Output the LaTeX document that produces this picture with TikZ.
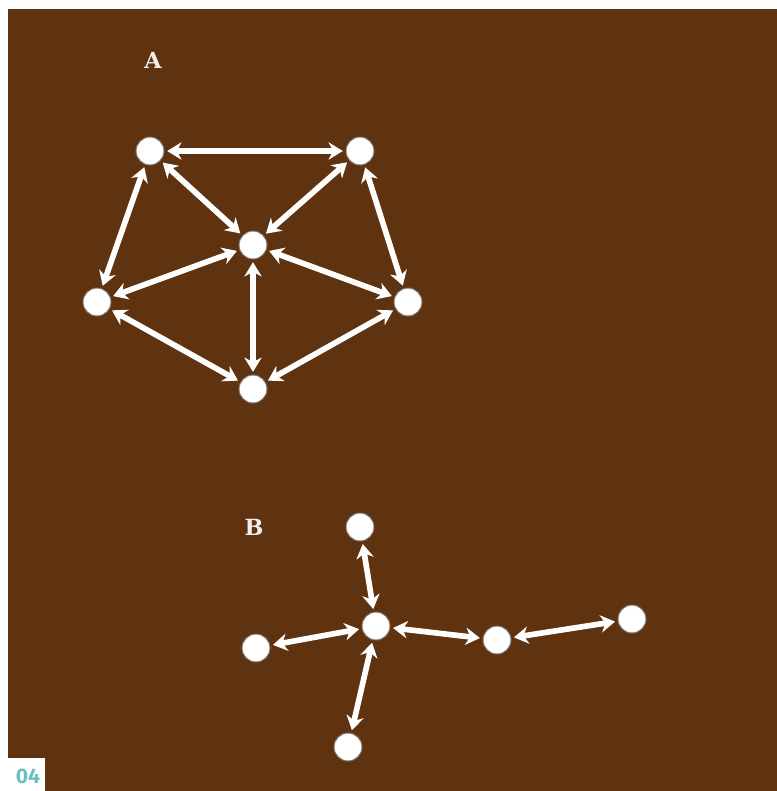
\documentclass[tikz,border=0pt]{standalone}
\usepackage{fontspec}
\newfontfamily\slabfont{DejaVu Serif}
\newfontfamily\numfont{Fira Sans}
\usepackage{tikz}
\usetikzlibrary{arrows.meta}
\definecolor{netBrown}{HTML}{5F3210}
\definecolor{netTeal}{HTML}{6DBFC3}
\definecolor{netShade}{HTML}{2A1406}
\tikzset{
  netNode/.style={
    circle,
    fill=white,
    draw=netShade!60,
    line width=0.3mm,
    minimum size=8.4mm,
    inner sep=0pt
  },
  netLink/.style={
    {Stealth[length=4.3mm, width=5.2mm]}-{Stealth[length=4.3mm, width=5.2mm]},
    line width=1.7mm,
    white,
    shorten <=0.8mm,
    shorten >=0.8mm
  },
  netLabel/.style={
    font=\fontsize{19}{23}\selectfont\slabfont\bfseries,
    text=white!92!netBrown,
    inner sep=0pt
  },
  figNumber/.style={
    font=\fontsize{18}{22}\selectfont\numfont\bfseries,
    text=netTeal,
    inner sep=0pt
  }
}
\begin{document}
\begin{tikzpicture}[x=0.3mm,y=-0.3mm]
  \useasboundingbox (0,0) rectangle (777,791);
  \fill[white] (0,0) rectangle (777,791);
  \fill[netBrown] (8,9) rectangle (777,791);
  \fill[white] (0,758) rectangle (45,791);
  \node[figNumber] (fignum) at (28,776) {04};

  % network A
  \node[netLabel] (labA) at (153,60) {A};
  \node[netNode] (aTL) at (150,151) {};
  \node[netNode] (aTR) at (360,151) {};
  \node[netNode] (aC) at (253,245) {};
  \node[netNode] (aL) at (97,302) {};
  \node[netNode] (aR) at (408,302) {};
  \node[netNode] (aB) at (253,389) {};

  \draw[netLink] (aTL) -- (aTR);
  \draw[netLink] (aTL) -- (aC);
  \draw[netLink] (aTR) -- (aC);
  \draw[netLink] (aTL) -- (aL);
  \draw[netLink] (aTR) -- (aR);
  \draw[netLink] (aL) -- (aC);
  \draw[netLink] (aR) -- (aC);
  \draw[netLink] (aC) -- (aB);
  \draw[netLink] (aL) -- (aB);
  \draw[netLink] (aR) -- (aB);

  % network B
  \node[netLabel] (labB) at (254,527) {B};
  \node[netNode] (bT) at (360,527) {};
  \node[netNode] (bC) at (376,626) {};
  \node[netNode] (bL) at (256,648) {};
  \node[netNode] (bB) at (348,747) {};
  \node[netNode] (bM) at (497,640) {};
  \node[netNode] (bR) at (632,619) {};

  \draw[netLink] (bT) -- (bC);
  \draw[netLink] (bL) -- (bC);
  \draw[netLink] (bB) -- (bC);
  \draw[netLink] (bC) -- (bM);
  \draw[netLink] (bM) -- (bR);
\end{tikzpicture}
\end{document}
